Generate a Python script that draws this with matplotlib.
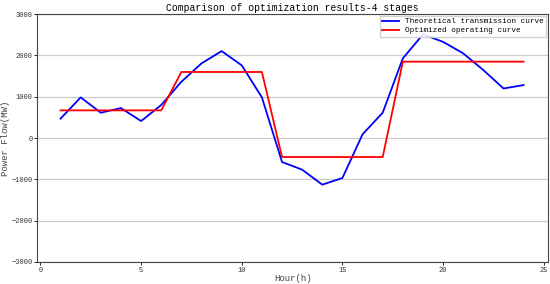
import matplotlib
matplotlib.use('Agg')
import matplotlib.pyplot as plt
import numpy as np

plt.rcParams['font.family'] = ['Liberation Mono', 'DejaVu Sans']

hours = list(range(1, 25))
theoretical = [470, 985, 613, 726, 411, 800, 1363, 1808, 2106, 1760, 985, -581,
               -767, -1130, -968, 90, 613, 1930, 2510, 2330, 2050, 1646, 1200, 1283]
optimized = [670]*6 + [1600]*5 + [-460]*6 + [1850]*7

fig = plt.figure(figsize=(5.5, 2.84), dpi=100)
ax = fig.add_axes([0.068, 0.078, 0.928, 0.872])

ax.plot(hours, theoretical, color='blue', lw=1.3, label='Theoretical transmission curve')
ax.plot(hours, optimized, color='red', lw=1.3, label='Optimized operating curve')

ax.set_xlim(-0.15, 25.2)
ax.set_ylim(-3000, 3000)
ax.set_xticks([0, 5, 10, 15, 20, 25])
ax.set_yticks(np.arange(-3000, 3001, 1000))
ax.yaxis.grid(True, color='#cccccc', lw=0.9)
ax.set_axisbelow(True)
ax.tick_params(labelsize=5, length=2, width=0.6, pad=1.5, labelcolor='#333333')
for s in ax.spines.values():
    s.set_color('#444444')
    s.set_linewidth(0.8)

ax.set_title('Comparison of optimization results-4 stages', fontsize=7, pad=2)
ax.set_xlabel('Hour(h)', fontsize=6.5, labelpad=0, color='#444444')
ax.set_ylabel('Power Flow(MW)', fontsize=6.5, labelpad=1, color='#444444')
ax.legend(loc='upper right', fontsize=5.5, borderaxespad=0.2, handlelength=2.2,
          fancybox=False, framealpha=0.9, edgecolor='#cccccc', borderpad=0.3,
          labelspacing=0.2)

fig.savefig('out.png', dpi=100)
